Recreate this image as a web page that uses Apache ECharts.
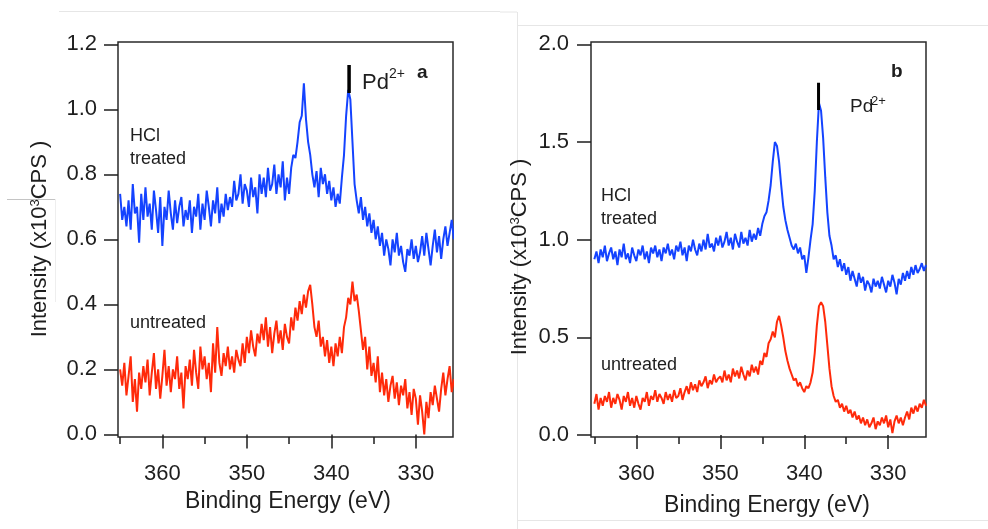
<!DOCTYPE html>
<html>
<head>
<meta charset="utf-8">
<script src="https://cdn.jsdelivr.net/npm/echarts@6/dist/echarts.min.js"></script>
<style>
  html, body { margin: 0; padding: 0; background: #fff; }
  #chart { width: 988px; height: 529px; }
</style>
</head>
<body>
<div id="chart"></div>
<script>
// ---------------- DATA ----------------
// Binding energy grid: 365.0 eV down to 325.5 eV in 0.25 eV steps (159 points)
const energyStart = 365.0;
const energyStep = 0.25;

// Panel a – HCl treated (x10^3 CPS)
const aTreated = [
  0.74,0.66,0.70,0.64, 0.72,0.63,0.77,0.68, 0.70,0.59,0.74,0.66, 0.76,0.67,0.71,0.63,
  0.75,0.69,0.62,0.73, 0.58,0.70,0.66,0.75, 0.68,0.63,0.72,0.65, 0.70,0.73,0.64,0.69,
  0.66,0.72,0.62,0.70, 0.67,0.74,0.63,0.71, 0.66,0.75,0.70,0.64, 0.72,0.68,0.76,0.65,
  0.71,0.67,0.74,0.69, 0.73,0.70,0.78,0.72, 0.74,0.80,0.71,0.77, 0.75,0.70,0.79,0.73,
  0.76,0.68,0.80,0.74, 0.79,0.73,0.82,0.75, 0.77,0.83,0.74,0.80, 0.76,0.84,0.72,0.79,
  0.74,0.82,0.86,0.85, 0.90,0.96,0.98,1.08, 0.97,0.90,0.86,0.80, 0.76,0.81,0.73,0.82,
  0.77,0.80,0.74,0.78, 0.72,0.76,0.70,0.74, 0.71,0.79,0.86,0.98, 1.06,1.03,0.90,0.77,
  0.72,0.68,0.73,0.66, 0.70,0.64,0.68,0.62, 0.66,0.60,0.64,0.58, 0.62,0.55,0.60,0.57,
  0.52,0.60,0.56,0.62, 0.55,0.58,0.53,0.50, 0.57,0.55,0.60,0.54, 0.58,0.53,0.56,0.61,
  0.55,0.62,0.57,0.52, 0.58,0.63,0.56,0.61, 0.54,0.60,0.64,0.58, 0.62,0.66,0.60
];
// Panel a – untreated
const aUntreated = [
  0.20,0.15,0.22,0.12, 0.18,0.24,0.10,0.17, 0.07,0.19,0.14,0.21, 0.16,0.23,0.12,0.19,
  0.25,0.14,0.20,0.11, 0.18,0.26,0.15,0.21, 0.13,0.20,0.17,0.24, 0.14,0.19,0.08,0.21,
  0.17,0.23,0.15,0.26, 0.19,0.14,0.27,0.20, 0.24,0.17,0.22,0.13, 0.28,0.19,0.33,0.22,
  0.18,0.25,0.21,0.27, 0.20,0.24,0.19,0.26, 0.23,0.21,0.28,0.22, 0.30,0.25,0.32,0.27,
  0.24,0.31,0.28,0.34, 0.29,0.36,0.27,0.33, 0.25,0.31,0.35,0.28, 0.32,0.26,0.34,0.30,
  0.28,0.36,0.32,0.39, 0.35,0.41,0.37,0.43, 0.39,0.44,0.46,0.40, 0.33,0.30,0.35,0.27,
  0.30,0.24,0.29,0.22, 0.27,0.21,0.28,0.24, 0.30,0.25,0.33,0.36, 0.42,0.40,0.47,0.41,
  0.43,0.38,0.32,0.26, 0.30,0.20,0.27,0.18, 0.22,0.16,0.24,0.13, 0.19,0.12,0.17,0.10,
  0.15,0.18,0.11,0.16, 0.09,0.15,0.12,0.17, 0.08,0.13,0.06,0.14, 0.11,0.03,0.12,0.07,
  0.00,0.10,0.05,0.13, 0.09,0.15,0.11,0.07, 0.14,0.19,0.12,0.17, 0.21,0.13,0.17
];
// Panel b – HCl treated
const bTreated = [
  0.90,0.94,0.88,0.95, 0.91,0.97,0.89,0.93, 0.96,0.90,0.94,0.87, 0.95,0.91,0.98,0.90,
  0.93,0.88,0.96,0.92, 0.89,0.95,0.92,0.97, 0.90,0.94,0.88,0.96, 0.93,0.97,0.91,0.95,
  0.89,0.96,0.93,0.98, 0.92,0.95,0.90,0.97, 0.94,0.99,0.92,0.96, 0.89,0.97,0.94,1.00,
  0.95,0.92,0.98,0.94, 1.00,0.95,1.03,0.96, 0.98,0.94,1.01,0.97, 1.02,0.96,0.99,1.04,
  0.97,1.01,0.95,1.03, 0.99,0.96,1.04,0.98, 1.01,0.97,1.05,0.99, 1.03,1.00,1.06,1.02,
  1.08,1.12,1.14,1.20, 1.28,1.40,1.50,1.48, 1.40,1.28,1.17,1.10, 1.05,1.01,0.97,0.95,
  0.98,0.93,0.96,0.90, 0.92,0.83,0.91,1.00, 1.08,1.25,1.50,1.70, 1.66,1.52,1.32,1.14,
  1.02,0.97,0.90,0.92, 0.86,0.90,0.84,0.88, 0.82,0.86,0.79,0.84, 0.80,0.76,0.83,0.78,
  0.81,0.74,0.79,0.77, 0.73,0.80,0.76,0.79, 0.75,0.81,0.77,0.73, 0.79,0.76,0.82,0.78,
  0.72,0.80,0.77,0.83, 0.79,0.84,0.80,0.86, 0.82,0.87,0.83,0.85, 0.88,0.84,0.87
];
// Panel b – untreated
const bUntreated = [
  0.16,0.21,0.13,0.19, 0.15,0.20,0.17,0.22, 0.14,0.19,0.16,0.21, 0.18,0.13,0.20,0.17,
  0.22,0.15,0.19,0.14, 0.20,0.16,0.13,0.19, 0.17,0.22,0.15,0.20, 0.18,0.23,0.17,0.21,
  0.19,0.16,0.22,0.18, 0.21,0.17,0.23,0.19, 0.20,0.24,0.18,0.22, 0.25,0.21,0.27,0.23,
  0.26,0.22,0.28,0.25, 0.27,0.30,0.24,0.28, 0.26,0.31,0.27,0.29, 0.30,0.27,0.33,0.28,
  0.31,0.27,0.34,0.30, 0.33,0.29,0.35,0.31, 0.28,0.33,0.30,0.36, 0.32,0.35,0.31,0.38,
  0.36,0.42,0.40,0.47, 0.49,0.53,0.50,0.58, 0.61,0.56,0.50,0.43, 0.38,0.34,0.31,0.28,
  0.29,0.25,0.27,0.24, 0.22,0.25,0.24,0.27, 0.32,0.42,0.56,0.66, 0.68,0.66,0.58,0.46,
  0.34,0.25,0.20,0.17, 0.18,0.14,0.16,0.12, 0.15,0.11,0.13,0.09, 0.12,0.08,0.10,0.06,
  0.09,0.05,0.08,0.04, 0.06,0.09,0.03,0.07, 0.05,0.09,0.06,0.10, 0.04,0.08,0.01,0.07,
  0.10,0.06,0.09,0.05, 0.09,0.12,0.08,0.14, 0.11,0.15,0.12,0.16, 0.14,0.18,0.15
];

// Pd2+ marker bars: [energy, low, high]
const pdMarkA = [337.9, 1.05, 1.136];
const pdMarkB = [338.3, 1.664, 1.804];

// Tick labels
const xMajorTicks = [330, 340, 350, 360];
const xMinorTicks = [335, 345, 355, 365];
const yTicksA = [0, 0.2, 0.4, 0.6, 0.8, 1.0, 1.2];
const yTicksB = [0, 0.5, 1.0, 1.5, 2.0];

// ---------------- CHART ----------------
const FONT = '"Liberation Sans", Arial, Helvetica, sans-serif';
const BLUE = '#1443ff';
const RED = '#ff2a0a';
const INK = '#1e1e1e';

function toPairs(vals) {
  return vals.map((v, i) => [energyStart - i * energyStep, v]);
}

const chart = echarts.init(document.getElementById('chart'), null, { renderer: 'canvas' });

function xAxes(grid, min, max) {
  return [
    {
      gridIndex: grid, type: 'value', inverse: true, min: min, max: max, position: 'bottom',
      axisLine: { show: false },
      splitLine: { show: false },
      axisTick: { show: true, customValues: xMajorTicks, length: 14, lineStyle: { color: INK, width: 1.5 } },
      axisLabel: { customValues: xMajorTicks, margin: 26, fontSize: 22, color: INK, fontFamily: FONT }
    },
    {
      gridIndex: grid, type: 'value', inverse: true, min: min, max: max, position: 'bottom',
      axisLine: { show: false },
      splitLine: { show: false },
      axisTick: { show: true, customValues: xMinorTicks, length: 7, lineStyle: { color: INK, width: 1.5 } },
      axisLabel: { show: false }
    }
  ];
}

function yAxis(grid, min, max, ticks, margin) {
  return {
    gridIndex: grid, type: 'value', min: min, max: max,
    axisLine: { show: false },
    splitLine: { show: false },
    axisTick: { show: true, customValues: ticks, length: 14, lineStyle: { color: INK, width: 1.5 } },
    axisLabel: { customValues: ticks, margin: margin, fontSize: 22, color: INK, fontFamily: FONT,
      formatter: v => Number(v).toFixed(1) }
  };
}

function lineSeries(vals, color, xi, yi) {
  return {
    type: 'line', data: toPairs(vals), xAxisIndex: xi, yAxisIndex: yi,
    showSymbol: false, symbol: 'none', animation: false, silent: true,
    lineStyle: { color: color, width: 2 }
  };
}

function markSeries(m, xi, yi, w) {
  return {
    type: 'line', data: [[m[0], m[1]], [m[0], m[2]]], xAxisIndex: xi, yAxisIndex: yi,
    showSymbol: false, symbol: 'none', animation: false, silent: true,
    lineStyle: { color: '#000', width: w }
  };
}

function txt(x, y, text, size, opts) {
  return Object.assign({
    type: 'text', x: x, y: y, silent: true,
    style: Object.assign({ text: text, font: (opts && opts.bold ? 'bold ' : '') + size + 'px ' + FONT,
      fill: INK, textAlign: 'left', textVerticalAlign: 'middle' }, (opts && opts.style) || {})
  }, (opts && opts.el) || {});
}

function faint(x1, y1, x2, y2, c) {
  return { type: 'line', silent: true, shape: { x1: x1, y1: y1, x2: x2, y2: y2 },
    style: { stroke: c || '#e6e6e6', lineWidth: 1 } };
}

function yName(x, y) {
  return {
    type: 'text', x: x, y: y, rotation: Math.PI / 2, silent: true,
    style: {
      text: '{n|Intensity (x10}{s|3}{n|CPS )}',
      textAlign: 'center', textVerticalAlign: 'middle',
      rich: {
        n: { fontSize: 22, fontFamily: FONT, fill: INK, color: INK },
        s: { fontSize: 13, fontFamily: FONT, fill: INK, color: INK, verticalAlign: 'top' }
      }
    }
  };
}

const option = {
  backgroundColor: '#ffffff',
  animation: false,
  grid: [
    { left: 118, top: 42, width: 335, height: 395, show: true, borderColor: '#2a2a2a', borderWidth: 1.5, backgroundColor: 'transparent' },
    { left: 591, top: 42, width: 335, height: 395, show: true, borderColor: '#2a2a2a', borderWidth: 1.5, backgroundColor: 'transparent' }
  ],
  xAxis: [].concat(xAxes(0, 325.6, 365.25), xAxes(1, 325.5, 365.4)),
  yAxis: [
    yAxis(0, -0.008, 1.207, yTicksA, 21),
    yAxis(1, -0.01, 2.012, yTicksB, 22)
  ],
  series: [
    lineSeries(aTreated, BLUE, 0, 0),
    lineSeries(aUntreated, RED, 0, 0),
    lineSeries(bTreated, BLUE, 2, 1),
    lineSeries(bUntreated, RED, 2, 1),
    markSeries(pdMarkA, 0, 0, 3.5),
    markSeries(pdMarkB, 2, 1, 3)
  ],
  graphic: [
    // faint frame artifacts of the source image
    faint(59, 11.5, 500, 11.5),
    faint(500, 12, 517, 12),
    faint(517.5, 12, 517.5, 529),
    faint(517, 25.5, 988, 25.5),
    faint(517, 520.5, 988, 520.5),
    faint(7, 199.5, 55, 199.5, '#c4c4c4'),
    faint(55.5, 199, 55.5, 302, '#eeeeee'),
    // axis names
    yName(40, 239),
    yName(520, 257),
    txt(288, 502, 'Binding Energy (eV)', 23, { style: { textAlign: 'center' } }),
    txt(767, 506, 'Binding Energy (eV)', 23, { style: { textAlign: 'center' } }),
    // panel a annotations
    txt(130, 136.5, 'HCl', 18),
    txt(130, 159.5, 'treated', 18),
    txt(130, 323.5, 'untreated', 18),
    txt(362, 83, 'Pd', 22),
    txt(389, 74, '2+', 14),
    txt(417, 73, 'a', 19, { bold: true }),
    // panel b annotations
    txt(601, 196.5, 'HCl', 18),
    txt(601, 219, 'treated', 18),
    txt(601, 365, 'untreated', 18),
    txt(850, 106.5, 'Pd', 19),
    txt(871, 101, '2+', 13),
    txt(891, 72, 'b', 19, { bold: true })
  ]
};

chart.setOption(option);
</script>
</body>
</html>
